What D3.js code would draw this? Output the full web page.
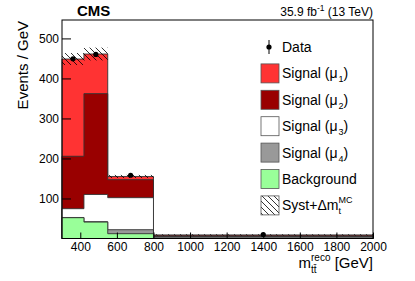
<!DOCTYPE html>
<html>
<head>
<meta charset="utf-8">
<script src="https://cdn.jsdelivr.net/npm/d3@7"></script>
<style>
body { margin: 0; background: #fff; }
text { font-family: "Liberation Sans", Arial, Helvetica, sans-serif; }
</style>
</head>
<body>
<div id="chart"></div>
<script>
// bin edges in GeV
var binEdges = [300, 420, 550, 800, 2000];

// stacked contributions, Events / GeV (bottom to top)
var background = [52, 41, 12, 0.5];
var signalMu4 = [0.5, 1, 10, 3.5];
var signalMu3 = [22, 68, 80, 1];
var signalMu2 = [131, 252, 45, 2];
var signalMu1 = [243, 99, 8, 2];

// half width of the syst band
var systUnc = [15, 16, 4, 1.5];

// data
var dataVals = [449, 460, 158, 10];
var dataErr = [2, 2, 1, 0.3];

var xMajor = [400, 600, 800, 1000, 1200, 1400, 1600, 1800, 2000];
var yMajor = [100, 200, 300, 400, 500];

var layers = [
  {name: "Background", vals: background, color: "#99ff99"},
  {name: "Signal mu4", vals: signalMu4, color: "#999999"},
  {name: "Signal mu3", vals: signalMu3, color: "#ffffff"},
  {name: "Signal mu2", vals: signalMu2, color: "#990000"},
  {name: "Signal mu1", vals: signalMu1, color: "#ff3333"}
];

var W = 415, H = 281;
var margin = {top: 20, right: 42, bottom: 42.5, left: 62};

var svg = d3.select("#chart").append("svg")
  .attr("width", W).attr("height", H);

var x = d3.scaleLinear().domain([300, 2000]).range([margin.left, W - margin.right]);
var y = d3.scaleLinear().domain([0, 546]).range([H - margin.bottom, margin.top]);

// hatch pattern
var defs = svg.append("defs");
defs.append("pattern")
  .attr("id", "hatch")
  .attr("patternUnits", "userSpaceOnUse")
  .attr("width", 6).attr("height", 6)
  .append("path")
  .attr("d", "M0,0L6,6M-1,5L1,7M5,-1L7,1")
  .attr("stroke", "#000").attr("stroke-width", 0.8);

// stack
var bins = d3.range(dataVals.length);
var cum = bins.map(function() { return 0; });
layers.forEach(function(l) {
  l.y1 = bins.map(function(i) { return cum[i] + l.vals[i]; });
  cum = l.y1.slice();
});
var total = cum;

// step histogram of cumulative values, drawn from the top layer down (like a THStack)
function stepPath(vals) {
  var p = d3.path();
  p.moveTo(x(binEdges[0]), y(0));
  bins.forEach(function(i) {
    p.lineTo(x(binEdges[i]), y(vals[i]));
    p.lineTo(x(binEdges[i + 1]), y(vals[i]));
  });
  p.lineTo(x(binEdges[binEdges.length - 1]), y(0));
  p.closePath();
  return p.toString();
}

var g = svg.append("g");
layers.slice().reverse().forEach(function(l) {
  g.append("path")
    .attr("d", stepPath(l.y1))
    .attr("fill", l.color)
    .attr("stroke", "#333")
    .attr("stroke-width", 0.9);
});

// syst band
g.selectAll(null)
  .data(bins)
  .enter()
  .append("rect")
  .attr("x", function(i) { return x(binEdges[i]); })
  .attr("width", function(i) { return x(binEdges[i + 1]) - x(binEdges[i]); })
  .attr("y", function(i) { return y(total[i] + systUnc[i]); })
  .attr("height", function(i) { return y(total[i] - systUnc[i]) - y(total[i] + systUnc[i]); })
  .attr("fill", "url(#hatch)");

// axes (ticks drawn inward)
var xAxisG = svg.append("g").attr("transform", "translate(0," + y(0) + ")");
xAxisG.call(d3.axisBottom(x).tickValues(d3.range(300, 2001, 50)).tickSize(-3).tickFormat(""));
xAxisG.call(d3.axisBottom(x).tickValues(xMajor).tickSize(-6).tickPadding(4).tickFormat(d3.format("d")));

var yAxisG = svg.append("g").attr("transform", "translate(" + x(300) + ",0)");
yAxisG.call(d3.axisLeft(y).tickValues(d3.range(20, 546, 20)).tickSize(-5).tickFormat(""));
yAxisG.call(d3.axisLeft(y).tickValues(yMajor).tickSize(-9).tickPadding(3).tickFormat(d3.format("d")));

svg.selectAll(".domain").remove();
svg.selectAll(".tick line").attr("stroke", "#000");
svg.selectAll(".tick text")
  .attr("fill", "#000")
  .style("font-size", "12px")
  .style("font-family", "Liberation Sans, Arial, sans-serif");

// data points
var dg = svg.append("g");
dg.selectAll(null).data(bins).enter().append("line")
  .attr("x1", function(i) { return x((binEdges[i] + binEdges[i + 1]) / 2); })
  .attr("x2", function(i) { return x((binEdges[i] + binEdges[i + 1]) / 2); })
  .attr("y1", function(i) { return y(dataVals[i] - dataErr[i]); })
  .attr("y2", function(i) { return y(dataVals[i] + dataErr[i]); })
  .attr("stroke", "#000");
dg.selectAll(null).data(bins).enter().append("circle")
  .attr("cx", function(i) { return x((binEdges[i] + binEdges[i + 1]) / 2); })
  .attr("cy", function(i) { return y(dataVals[i]); })
  .attr("r", 2.6)
  .attr("fill", "#000");

// frame
svg.append("rect")
  .attr("x", x(300)).attr("y", y(546))
  .attr("width", x(2000) - x(300)).attr("height", y(0) - y(546))
  .attr("fill", "none").attr("stroke", "#000").attr("stroke-width", 1);

// titles
svg.append("text")
  .attr("x", 77).attr("y", 15.5)
  .style("font-size", "15px").style("font-weight", "bold")
  .text("CMS");

var lumi = svg.append("text")
  .attr("x", x(2000)).attr("y", 15.5)
  .attr("text-anchor", "end")
  .style("font-size", "12px");
lumi.append("tspan").text("35.9 fb");
lumi.append("tspan").attr("dy", -5).style("font-size", "8.5px").text("-1");
lumi.append("tspan").attr("dy", 5).text(" (13 TeV)");

svg.append("text")
  .attr("transform", "translate(28,21) rotate(-90)")
  .attr("text-anchor", "end")
  .style("font-size", "15px")
  .text("Events / GeV");

var xt = svg.append("text")
  .attr("x", x(2000)).attr("y", 268)
  .attr("text-anchor", "end")
  .style("font-size", "15px");
xt.append("tspan").text("m");
xt.append("tspan").attr("dy", 5).style("font-size", "10px").text("tt\u0304");
xt.append("tspan").attr("dx", -5.6).attr("dy", -12).style("font-size", "10px").text("reco");
xt.append("tspan").attr("dy", 7).text(" [GeV]");

// legend
var legendItems = [
  {label: "Signal (\u03bc", sub: "1", kind: "box", color: "#ff3333"},
  {label: "Signal (\u03bc", sub: "2", kind: "box", color: "#990000"},
  {label: "Signal (\u03bc", sub: "3", kind: "box", color: "#ffffff"},
  {label: "Signal (\u03bc", sub: "4", kind: "box", color: "#999999"},
  {label: "Background", kind: "box", color: "#99ff99"},
  {label: "Syst+\u0394m", kind: "hatch"}
];
var lg = svg.append("g");
var rowY = function(k) { return 47 + k * 26.4; };

lg.append("line").attr("x1", 269).attr("x2", 269).attr("y1", 40).attr("y2", 54).attr("stroke", "#000");
lg.append("circle").attr("cx", 269).attr("cy", 47).attr("r", 2.6).attr("fill", "#000");
lg.append("text").attr("x", 282).attr("y", 52).style("font-size", "14px").text("Data");

legendItems.forEach(function(d, k) {
  var cy = rowY(k + 1);
  lg.append("rect")
    .attr("x", 261).attr("y", cy - 9.5)
    .attr("width", 18).attr("height", 19)
    .attr("fill", d.kind === "hatch" ? "url(#hatch)" : d.color)
    .attr("stroke", "#555").attr("stroke-width", 0.8);
  var t = lg.append("text").attr("x", 282).attr("y", cy + 5).style("font-size", "14px");
  t.append("tspan").text(d.label);
  if (d.sub) {
    t.append("tspan").attr("dx", 1).attr("dy", 4).style("font-size", "9px").text(d.sub);
    t.append("tspan").attr("dy", -4).text(")");
  }
  if (d.kind === "hatch") {
    t.append("tspan").attr("dy", 4).style("font-size", "9px").text("t");
    t.append("tspan").attr("dx", -2.5).attr("dy", -11).style("font-size", "9px").text("MC");
  }
});
</script>
</body>
</html>
